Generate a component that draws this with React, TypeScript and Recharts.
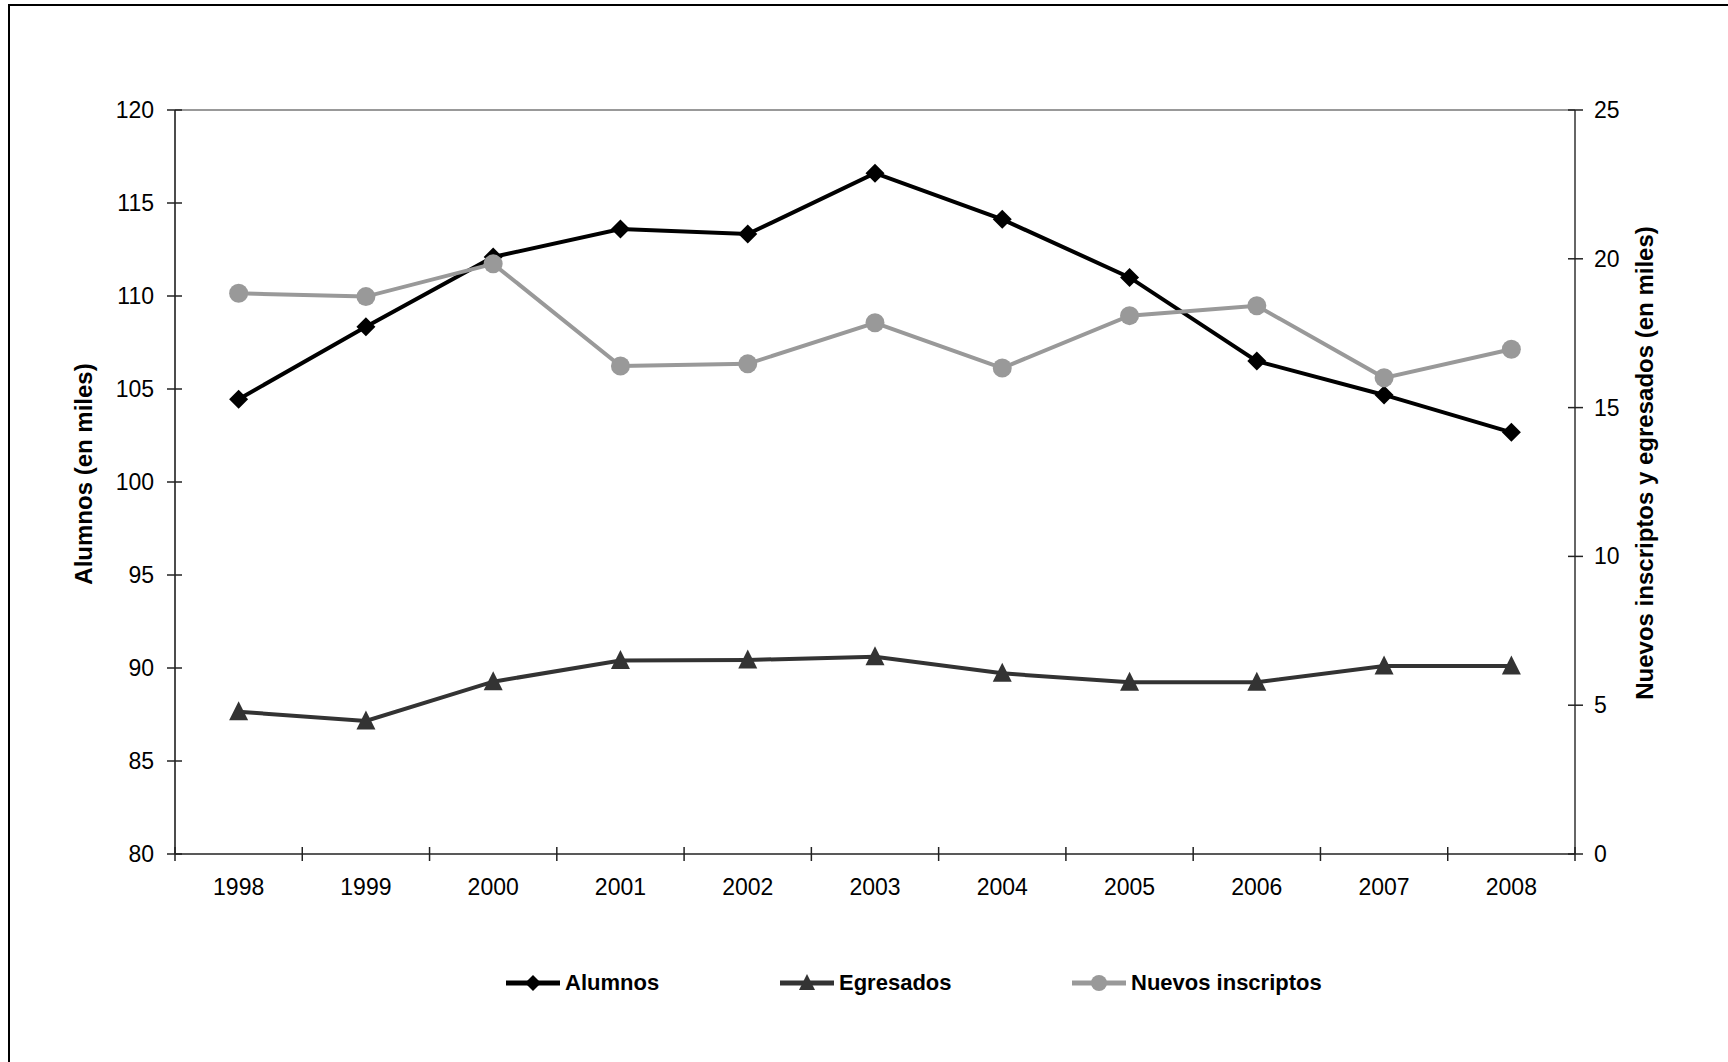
import React from 'react';
import { LineChart, Line, XAxis, YAxis, Legend, ReferenceLine } from 'recharts';

const years = ['1998', '1999', '2000', '2001', '2002', '2003', '2004', '2005', '2006', '2007', '2008'];
const alumnos = [104.45, 108.35, 112.1, 113.6, 113.33, 116.6, 114.12, 111.0, 106.5, 104.68, 102.67];
const egresados = [4.78, 4.47, 5.79, 6.5, 6.52, 6.63, 6.07, 5.77, 5.77, 6.32, 6.32];
const nuevos = [18.84, 18.73, 19.83, 16.4, 16.47, 17.85, 16.33, 18.09, 18.42, 16.0, 16.96];
const leftTicks = [80, 85, 90, 95, 100, 105, 110, 115, 120];
const rightTicks = [0, 5, 10, 15, 20, 25];
const seriesNames = ['Alumnos', 'Egresados', 'Nuevos inscriptos'];

const data = years.map((y, i) => ({
  idx: i,
  year: y,
  alumnos: alumnos[i],
  egresados: egresados[i],
  nuevos: nuevos[i],
}));

const xTicks: number[] = [];
for (let i = 0; i <= years.length; i++) {
  xTicks.push(i - 0.5);
  if (i < years.length) xTicks.push(i);
}

const FONT = '"Liberation Sans", Arial, Helvetica, sans-serif';
const C_ALU = '#000000';
const C_EGR = '#333333';
const C_NUE = '#999999';

const Diamond = ({ cx, cy, r, fill }: any) => (
  <polygon points={`${cx},${cy - r} ${cx + r},${cy} ${cx},${cy + r} ${cx - r},${cy}`} fill={fill} />
);
const Tri = ({ cx, cy, r, fill }: any) => (
  <polygon points={`${cx},${cy - r} ${cx + r},${cy + r} ${cx - r},${cy + r}`} fill={fill} />
);
const Circ = ({ cx, cy, r, fill }: any) => <circle cx={cx} cy={cy} r={r} fill={fill} />;

const markers = [
  (cx: number, cy: number, s: number) => <Diamond cx={cx} cy={cy} r={s} fill={C_ALU} />,
  (cx: number, cy: number, s: number) => <Tri cx={cx} cy={cy} r={s} fill={C_EGR} />,
  (cx: number, cy: number, s: number) => <Circ cx={cx} cy={cy} r={s} fill={C_NUE} />,
];
const colors = [C_ALU, C_EGR, C_NUE];
const legendLeft = [497, 771, 1063];

const XTick = (props: any) => {
  const { x, y, payload } = props;
  const v = payload.value;
  if (Math.abs(v - Math.round(v)) > 0.01) {
    return <line x1={x} x2={x} y1={y - 7} y2={y + 7} stroke="#222" strokeWidth={1.5} />;
  }
  return (
    <text x={x} y={y + 33} dy="0.35em" textAnchor="middle" fontSize={23} fontFamily={FONT} fill="#000">
      {years[Math.round(v)]}
    </text>
  );
};

const LeftTick = (props: any) => {
  const { x, y, payload } = props;
  return (
    <g>
      <line x1={x - 8} x2={x + 7} y1={y} y2={y} stroke="#222" strokeWidth={1.5} />
      <text x={x - 21} y={y} dy="0.35em" textAnchor="end" fontSize={23} fontFamily={FONT} fill="#000">
        {payload.value}
      </text>
    </g>
  );
};

const RightTick = (props: any) => {
  const { x, y, payload } = props;
  return (
    <g>
      <line x1={x - 7} x2={x + 8} y1={y} y2={y} stroke="#222" strokeWidth={1.5} />
      <text x={x + 19} y={y} dy="0.35em" textAnchor="start" fontSize={23} fontFamily={FONT} fill="#000">
        {payload.value}
      </text>
    </g>
  );
};

const LeftTitle = (props: any) => {
  const cx = 76;
  const cy = 470;
  return (
    <text
      x={cx}
      y={cy}
      dy="0.35em"
      transform={`rotate(-90 ${cx} ${cy})`}
      textAnchor="middle"
      fontSize={24}
      fontWeight="bold"
      fontFamily={FONT}
      fill="#000"
    >
      Alumnos (en miles)
    </text>
  );
};

const RightTitle = (props: any) => {
  const cx = 1637;
  const cy = 459;
  return (
    <text
      x={cx}
      y={cy}
      dy="0.35em"
      transform={`rotate(-90 ${cx} ${cy})`}
      textAnchor="middle"
      fontSize={24}
      fontWeight="bold"
      fontFamily={FONT}
      fill="#000"
    >
      Nuevos inscriptos y egresados (en miles)
    </text>
  );
};

const LegendContent = () => (
  <div style={{ position: 'relative', width: 1720, height: 40 }}>
    {seriesNames.map((name, i) => (
      <div
        key={name}
        style={{
          position: 'absolute',
          left: legendLeft[i],
          top: 0,
          height: 40,
          display: 'flex',
          alignItems: 'center',
        }}
      >
        <svg width={56} height={26}>
          <line x1={1} x2={55} y1={13} y2={13} stroke={colors[i]} strokeWidth={5} />
          {markers[i](28, i === 1 ? 12 : 13, 8)}
        </svg>
        <span
          style={{
            marginLeft: 4,
            fontFamily: FONT,
            fontWeight: 'bold',
            fontSize: 22,
            color: '#000',
            whiteSpace: 'nowrap',
          }}
        >
          {name}
        </span>
      </div>
    ))}
  </div>
);

export default function App() {
  return (
    <div
      style={{
        position: 'fixed',
        left: 8,
        top: 4,
        width: 1720,
        height: 1058,
        borderLeft: '2px solid #000',
        borderTop: '2px solid #000',
        boxSizing: 'border-box',
        background: '#fff',
      }}
    >
      <div style={{ position: 'absolute', left: -2, top: -2 }}>
        <LineChart
          width={1720}
          height={1058}
          data={data}
          margin={{ top: 106, right: 93, left: 107, bottom: 59 }}
        >
          <XAxis
            dataKey="idx"
            type="number"
            domain={[-0.5, 10.5]}
            ticks={xTicks}
            interval={0}
            tick={<XTick />}
            tickLine={false}
            tickSize={0}
            tickMargin={0}
            height={109}
            axisLine={{ stroke: '#222', strokeWidth: 1.5 }}
            allowDataOverflow
          />
          <YAxis
            yAxisId="left"
            orientation="left"
            domain={[80, 120]}
            ticks={leftTicks}
            interval={0}
            tick={<LeftTick />}
            tickLine={false}
            tickSize={0}
            tickMargin={0}
            width={60}
            axisLine={{ stroke: '#111', strokeWidth: 1.5 }}
            label={<LeftTitle />}
            allowDataOverflow
          />
          <YAxis
            yAxisId="right"
            orientation="right"
            domain={[0, 25]}
            ticks={rightTicks}
            interval={0}
            tick={<RightTick />}
            tickLine={false}
            tickSize={0}
            tickMargin={0}
            width={60}
            axisLine={{ stroke: '#333', strokeWidth: 1.5 }}
            label={<RightTitle />}
            allowDataOverflow
          />
          <ReferenceLine yAxisId="left" y={120} stroke="#999" strokeWidth={2} />
          <Legend
            verticalAlign="bottom"
            content={<LegendContent />}
            wrapperStyle={{ left: 0, width: 1720, height: 40 }}
          />
          <Line
            yAxisId="right"
            dataKey="egresados"
            name="Egresados"
            stroke={C_EGR}
            strokeWidth={4}
            isAnimationActive={false}
            dot={(p: any) => <Tri key={`e${p.index}`} cx={p.cx} cy={p.cy - 1} r={9.5} fill={C_EGR} />}
            activeDot={false}
          />
          <Line
            yAxisId="left"
            dataKey="alumnos"
            name="Alumnos"
            stroke={C_ALU}
            strokeWidth={4}
            isAnimationActive={false}
            dot={(p: any) => <Diamond key={`a${p.index}`} cx={p.cx} cy={p.cy} r={9.5} fill={C_ALU} />}
            activeDot={false}
          />
          <Line
            yAxisId="right"
            dataKey="nuevos"
            name="Nuevos inscriptos"
            stroke={C_NUE}
            strokeWidth={4}
            isAnimationActive={false}
            dot={(p: any) => <Circ key={`n${p.index}`} cx={p.cx} cy={p.cy} r={9.5} fill={C_NUE} />}
            activeDot={false}
          />
        </LineChart>
      </div>
    </div>
  );
}
